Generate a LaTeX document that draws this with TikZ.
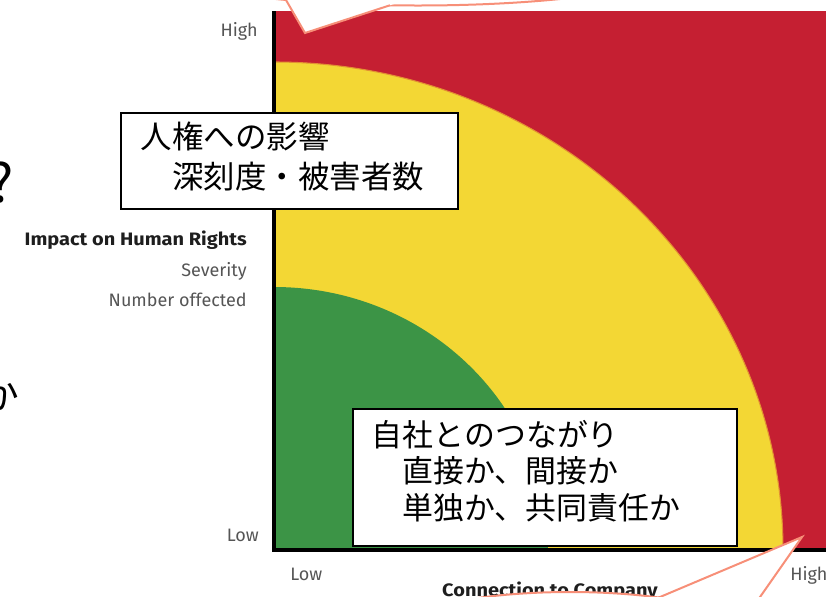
\documentclass[tikz,border=0pt]{standalone}
\usepackage{fontspec}
\newfontfamily\jp{Noto Sans CJK JP}
\newfontfamily\lab{Fira Sans}
\newfontfamily\labh[FakeStretch=1.11]{Fira Sans}
\definecolor{chred}{RGB}{197,31,50}
\definecolor{chyel}{RGB}{243,215,52}
\definecolor{chgrn}{RGB}{60,148,70}
\definecolor{salmon}{RGB}{247,143,120}
\definecolor{labgray}{RGB}{85,85,85}
\definecolor{headgray}{RGB}{30,30,30}
\definecolor{edgeorange}{RGB}{214,96,48}
\begin{document}
\begin{tikzpicture}[x=0.75pt,y=-0.75pt,
  lbl/.style={font=\lab\fontsize{13.5}{16}\selectfont, text=labgray, inner sep=0pt},
  headlbl/.style={font=\labh\bfseries\fontsize{13.5}{16}\selectfont, text=headgray, inner sep=0pt},
  jtexta/.style={font=\jp\fontsize{23.6}{28}\selectfont, inner sep=0pt, anchor=base west},
  jtextb/.style={font=\jp\fontsize{23.2}{28}\selectfont, inner sep=0pt, anchor=base west},
  infobox/.style={draw=black, line width=1.5pt, fill=white, rectangle, inner sep=0pt, anchor=north west},
  calloutshape/.style={draw=salmon, line width=1.5pt, fill=white},
  pointerline/.style={draw=salmon, line width=1.5pt, line join=miter},
]
\useasboundingbox (0,0) rectangle (826,597);
\begin{scope}
\clip (0,0) rectangle (826,597);

% partial glyphs at left edge
\node[font=\jp\fontsize{40}{40}\selectfont, inner sep=0pt, anchor=base east] (qmark) at (14,202) {?};
\node[font=\jp\fontsize{29}{29}\selectfont, inner sep=0pt, anchor=base] (kapart) at (0,409) {か};

% chart
\begin{scope}
\clip (274,11) rectangle (826,550);
\fill[chred] (274,11) rectangle (826,550);
\fill[chyel, draw=edgeorange!60!chyel, line width=0.8pt] (274,550) ellipse [x radius=381.75pt, y radius=366pt];
\fill[chgrn] (274,550) ellipse [x radius=205.5pt, y radius=197.25pt];
\end{scope}
\coordinate (axtop) at (274,11);
\coordinate (axorig) at (274,550);
\coordinate (axright) at (826,550);
\draw[line width=3pt] (axtop) -- (axorig) -- (axright);

% axis labels
\node[lbl, anchor=base east] (ylhigh) at (258,36) {High};
\node[lbl, anchor=base east] (yllow) at (259,541) {Low};
\node[lbl, anchor=base west] (xllow) at (290,580) {Low};
\node[lbl, anchor=base west] (xlhigh) at (790,580) {High};
\node[headlbl, anchor=base east] (ytitle) at (247,245) {Impact on Human Rights};
\node[lbl, anchor=base east] (ysev) at (247,276.7) {Severity};
\node[lbl, anchor=base east] (ynum) at (247,306.7) {Number offected};
\node[headlbl, anchor=base] (xtitle) at (550,596.5) {Connection to Company};

% info boxes
\node[infobox, minimum width=252.75pt, minimum height=72pt] (box1) at (120,112) {};
\node[jtexta] (b1l1) at (140.5,148.7) {人権への影響};
\node[jtexta] (b1l2) at (140.5,188.7) {　深刻度・被害者数};

\node[infobox, minimum width=288pt, minimum height=102.75pt] (box2) at (352,408) {};
\node[jtextb] (b2l1) at (371.5,446.7) {自社とのつながり};
\node[jtextb] (b2l2) at (371.5,482.5) {　直接か、間接か};
\node[jtextb] (b2l3) at (371.5,519.7) {　単独か、共同責任か};

% top callout (mostly outside the view)
\coordinate (ttip) at (305,33);
\coordinate (tlb) at (286,0);
\coordinate (trb) at (390,5.27);
\path[calloutshape] (418,-34.5) ellipse [x radius=195pt, y radius=30pt];
\fill[white] (ttip) -- (280.3,-9.9) -- (415.5,-3.0) -- cycle;
\draw[pointerline] (tlb) -- (ttip) -- (trb);

% bottom callout (mostly outside the view)
\coordinate (btip) at (802,537);
\coordinate (blb) at (658.6,597.6);
\coordinate (brb) at (744.5,619.2);
\path[calloutshape] (570,645) ellipse [x radius=150pt, y radius=39.75pt];
\fill[white] (btip) -- (629.9,609.7) -- (733,635.6) -- cycle;
\draw[pointerline] (blb) -- (btip) -- (brb);
\end{scope}
\end{tikzpicture}
\end{document}
